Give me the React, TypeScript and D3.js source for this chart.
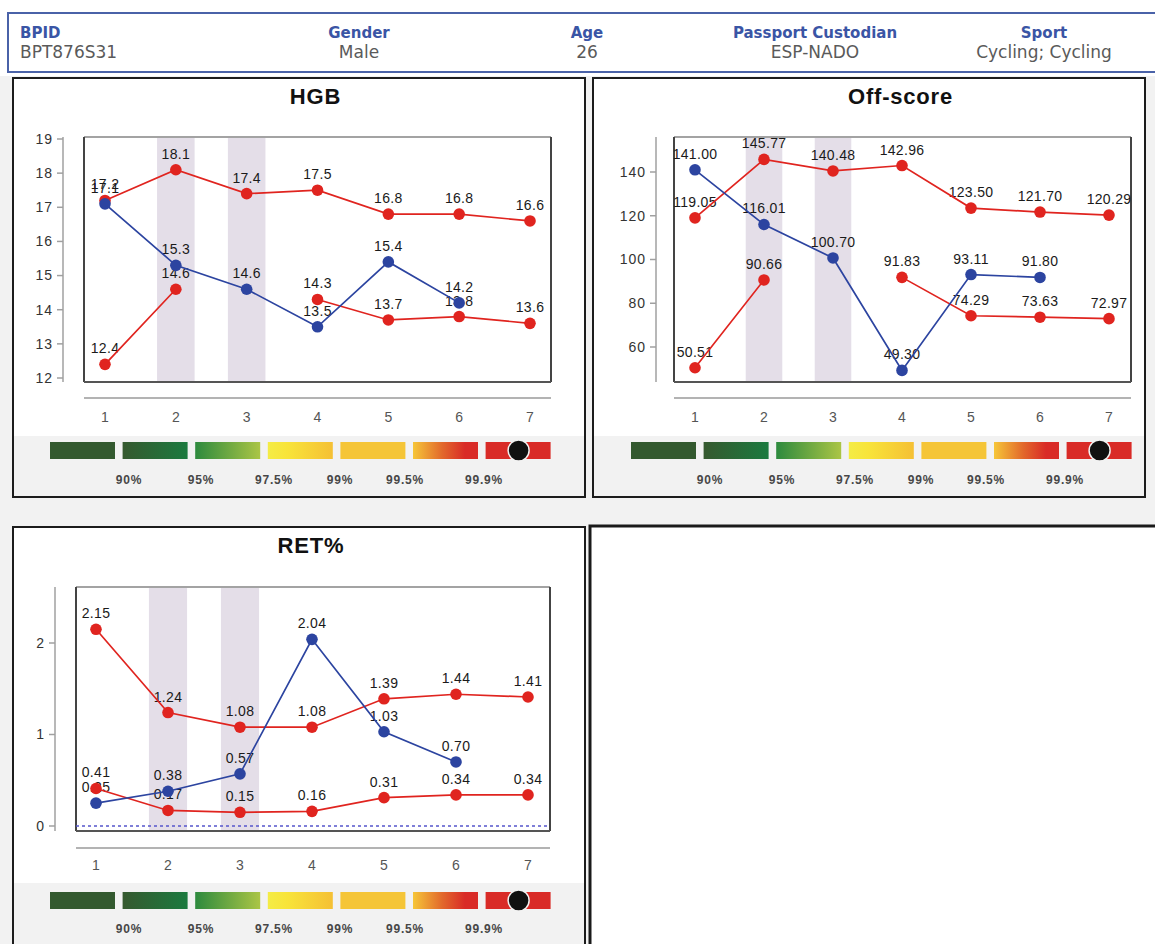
import React, { useRef, useEffect } from 'react';
import * as d3 from 'd3';

// visits on the x axis, and the shaded ones
const visits = [1, 2, 3, 4, 5, 6, 7];
const shadedVisits = [2, 3];

// HGB
const hgbUpper = [17.2, 18.1, 17.4, 17.5, 16.8, 16.8, 16.6];
const hgbValue = [17.1, 15.3, 14.6, 13.5, 15.4, 14.2, null];
const hgbLower = [12.4, 14.6, null, 14.3, 13.7, 13.8, 13.6];
const hgbTicks = [12, 13, 14, 15, 16, 17, 18, 19];

// Off-score
const offUpper = [119.05, 145.77, 140.48, 142.96, 123.5, 121.7, 120.29];
const offValue = [141.0, 116.01, 100.7, 49.3, 93.11, 91.8, null];
const offLower = [50.51, 90.66, null, 91.83, 74.29, 73.63, 72.97];
const offTicks = [60, 80, 100, 120, 140];

// RET%
const retUpper = [2.15, 1.24, 1.08, 1.08, 1.39, 1.44, 1.41];
const retValue = [0.25, 0.38, 0.57, 2.04, 1.03, 0.7, null];
const retLower = [0.41, 0.17, 0.15, 0.16, 0.31, 0.34, 0.34];
const retTicks = [0, 1, 2];

const legendLabels = ['90%', '95%', '97.5%', '99%', '99.5%', '99.9%'];

const headerLabels = ['BPID', 'Gender', 'Age', 'Passport Custodian', 'Sport'];
const headerValues = ['BPT876S31', 'Male', '26', 'ESP-NADO', 'Cycling; Cycling'];

const RED = '#e0241f';
const BLUE = '#2c44a0';
const FONT = '"Liberation Sans", Arial, sans-serif';

// panel layouts (pixels)
const panels = [
    {
        title: 'HGB', x: 13, y: 78, w: 572, h: 419, titleY: 104,
        axisX: 63, box: [84, 137, 551, 382], yDomain: [12, 19], yRange: [378, 139],
        xRange: [105, 530], xAxisY: 398, xLabelY: 422,
        legendTop: 436, legendX: 50, barY: 442, legendLabelY: 484,
        ticks: hgbTicks, digits: 1, upper: hgbUpper, value: hgbValue, lower: hgbLower, zero: false
    },
    {
        title: 'Off-score', x: 593, y: 78, w: 552, h: 419, titleY: 104,
        axisX: 656, box: [674, 137, 1131, 382], yDomain: [60, 140], yRange: [347, 172],
        xRange: [695, 1109], xAxisY: 398, xLabelY: 422,
        legendTop: 436, legendX: 631, barY: 442, legendLabelY: 484,
        ticks: offTicks, digits: 2, upper: offUpper, value: offValue, lower: offLower, zero: false
    },
    {
        title: 'RET%', x: 13, y: 527, w: 572, h: 440, titleY: 553,
        axisX: 55, box: [76, 587, 550, 831], yDomain: [0, 2], yRange: [826, 643],
        xRange: [96, 528], xAxisY: 848, xLabelY: 870,
        legendTop: 883, legendX: 50, barY: 892, legendLabelY: 933,
        ticks: retTicks, digits: 2, upper: retUpper, value: retValue, lower: retLower, zero: true
    }
];

const legendFills = ['#33592f', 'url(#lg2)', 'url(#lg3)', 'url(#lg4)', '#f5c537', 'url(#lg6)', '#d92b27'];
const legendLabelOffsets = [79, 151, 224, 290, 355, 434];

const App = () => {
    const svgRef = useRef(null);

    useEffect(() => {
        const svg = d3.select(svgRef.current);
        svg.selectAll('*').remove();

        // gradients for the legend bar
        const defs = svg.append('defs');
        const grads = [
            { id: 'lg2', stops: [['0%', '#36592f'], ['100%', '#1b7a3f']] },
            { id: 'lg3', stops: [['0%', '#2d8a3e'], ['100%', '#abc545']] },
            { id: 'lg4', stops: [['0%', '#f4ec45'], ['30%', '#f8e43a'], ['100%', '#f5c034']] },
            { id: 'lg6', stops: [['0%', '#f6c638'], ['45%', '#e2682b'], ['80%', '#d92b27'], ['100%', '#d92b27']] }
        ];
        grads.forEach(gr => {
            const lg = defs.append('linearGradient').attr('id', gr.id).attr('x1', '0%').attr('x2', '100%');
            gr.stops.forEach(s => lg.append('stop').attr('offset', s[0]).attr('stop-color', s[1]));
        });

        // page background
        svg.append('rect').attr('width', 1155).attr('height', 944).attr('fill', '#f2f2f2');
        svg.append('rect').attr('width', 1155).attr('height', 76).attr('fill', '#fff');

        // header
        const head = svg.append('g');
        head.append('rect').attr('x', 8).attr('y', 13).attr('width', 1160).attr('height', 59)
            .attr('fill', '#fff').attr('stroke', '#4a62a8').attr('stroke-width', 2);
        const headX = [20, 359, 587, 815, 1044];
        headerLabels.forEach((lab, i) => {
            const anchor = i === 0 ? 'start' : 'middle';
            head.append('text').attr('x', headX[i]).attr('y', 38).attr('text-anchor', anchor)
                .style('font-family', '"DejaVu Sans", Verdana, sans-serif').style('font-weight', 'bold')
                .style('font-size', '15px').style('fill', '#3a55a5').text(lab);
            head.append('text').attr('x', headX[i]).attr('y', 58).attr('text-anchor', anchor)
                .style('font-family', '"DejaVu Sans", Verdana, sans-serif')
                .style('font-size', '17px').style('fill', '#5a5a5a').text(headerValues[i]);
        });

        // empty fourth panel
        svg.append('rect').attr('x', 590).attr('y', 526).attr('width', 600).attr('height', 500)
            .attr('fill', '#fff').attr('stroke', '#1a1a1a').attr('stroke-width', 3);

        panels.forEach(p => {
            const g = svg.append('g');
            const [bl, bt, br, bb] = p.box;

            g.append('rect').attr('x', p.x).attr('y', p.y).attr('width', p.w).attr('height', p.h)
                .attr('fill', '#fff').attr('stroke', '#1c1c1c').attr('stroke-width', 2);
            g.append('rect').attr('x', p.x + 1).attr('y', p.legendTop).attr('width', p.w - 2)
                .attr('height', p.y + p.h - 1 - p.legendTop).attr('fill', '#f2f2f2');

            g.append('text').attr('x', (bl + br) / 2 - 2).attr('y', p.titleY).attr('text-anchor', 'middle')
                .style('font-family', FONT).style('font-weight', 'bold').style('font-size', '22px')
                .style('letter-spacing', '0.8px').style('fill', '#111').text(p.title);

            const x = d3.scaleLinear().domain([1, 7]).range(p.xRange);
            const y = d3.scaleLinear().domain(p.yDomain).range(p.yRange);
            const step = (p.xRange[1] - p.xRange[0]) / (visits.length - 1);
            const bandW = step * 0.53;

            // shaded visits
            g.selectAll('.band').data(shadedVisits).enter().append('rect')
                .attr('x', d => x(d) - bandW / 2).attr('y', bt).attr('width', bandW).attr('height', bb - bt)
                .attr('fill', '#e4dee8');

            // plot frame
            g.append('line').attr('x1', bl).attr('x2', br).attr('y1', bt).attr('y2', bt).attr('stroke', '#a3a3a3').attr('stroke-width', 2);
            g.append('line').attr('x1', bl).attr('x2', bl).attr('y1', bt).attr('y2', bb).attr('stroke', '#444').attr('stroke-width', 2);
            g.append('line').attr('x1', br).attr('x2', br).attr('y1', bt).attr('y2', bb).attr('stroke', '#444').attr('stroke-width', 2);
            g.append('line').attr('x1', bl).attr('x2', br).attr('y1', bb).attr('y2', bb).attr('stroke', '#555').attr('stroke-width', 2);

            if (p.zero) {
                g.append('line').attr('x1', bl).attr('x2', br).attr('y1', y(0)).attr('y2', y(0))
                    .attr('stroke', '#5656cc').attr('stroke-width', 1.5).attr('stroke-dasharray', '3,3');
            }

            // y axis
            g.append('line').attr('x1', p.axisX).attr('x2', p.axisX).attr('y1', bt).attr('y2', bb)
                .attr('stroke', '#a0a0a0').attr('stroke-width', 1.5);
            p.ticks.forEach(t => {
                g.append('line').attr('x1', p.axisX - 6).attr('x2', p.axisX).attr('y1', y(t)).attr('y2', y(t))
                    .attr('stroke', '#a0a0a0').attr('stroke-width', 1.5);
                g.append('text').attr('x', p.axisX - 10).attr('y', y(t)).attr('dy', '0.35em').attr('text-anchor', 'end')
                    .style('font-family', FONT).style('font-size', '14px').style('letter-spacing', '1px')
                    .style('fill', '#333').text(t);
            });

            // x axis
            g.append('line').attr('x1', bl).attr('x2', br).attr('y1', p.xAxisY).attr('y2', p.xAxisY)
                .attr('stroke', '#9a9a9a').attr('stroke-width', 1.5);
            visits.forEach(v => {
                g.append('text').attr('x', x(v)).attr('y', p.xLabelY).attr('text-anchor', 'middle')
                    .style('font-family', FONT).style('font-size', '14px').style('fill', '#555').text(v);
            });

            const series = [
                { vals: p.upper, color: RED },
                { vals: p.lower, color: RED },
                { vals: p.value, color: BLUE }
            ];
            const fmt = d3.format(`.${p.digits}f`);

            // value labels
            series.forEach(s => {
                s.vals.forEach((d, i) => {
                    if (d == null) return;
                    g.append('text').attr('x', x(visits[i])).attr('y', y(d) - 11).attr('text-anchor', 'middle')
                        .style('font-family', FONT).style('font-size', '14px').style('letter-spacing', '0.3px')
                        .style('fill', '#1a1a1a').text(fmt(d));
                });
            });

            // lines
            const line = d3.line().defined(d => d != null).x((d, i) => x(visits[i])).y(d => y(d));
            series.forEach(s => {
                g.append('path').attr('d', line(s.vals)).attr('fill', 'none')
                    .attr('stroke', s.color).attr('stroke-width', 1.7);
            });

            // markers
            series.forEach(s => {
                s.vals.forEach((d, i) => {
                    if (d == null) return;
                    g.append('circle').attr('cx', x(visits[i])).attr('cy', y(d)).attr('r', 5.8).attr('fill', s.color);
                });
            });

            // percentile legend
            const segW = 65;
            const segStep = 72.6;
            legendFills.forEach((f, i) => {
                g.append('rect').attr('x', p.legendX + i * segStep).attr('y', p.barY)
                    .attr('width', segW).attr('height', 17).attr('fill', f);
            });
            g.append('circle').attr('cx', p.legendX + 6 * segStep + segW / 2 + 0.5).attr('cy', p.barY + 8.5)
                .attr('r', 10.5).attr('fill', '#111').attr('stroke', '#f2f2f2').attr('stroke-width', 1.5);
            legendLabels.forEach((lab, i) => {
                g.append('text').attr('x', p.legendX + legendLabelOffsets[i]).attr('y', p.legendLabelY)
                    .attr('text-anchor', 'middle').style('font-family', FONT).style('font-weight', 'bold')
                    .style('font-size', '12px').style('letter-spacing', '0.8px').style('fill', '#474747').text(lab);
            });
        });
    }, []);

    return (
        <div style={{ position: 'absolute', left: 0, top: 0, width: 1155, height: 944, overflow: 'hidden' }}>
            <svg ref={svgRef} width={1155} height={944} style={{ display: 'block' }}></svg>
        </div>
    );
};

export default App;
